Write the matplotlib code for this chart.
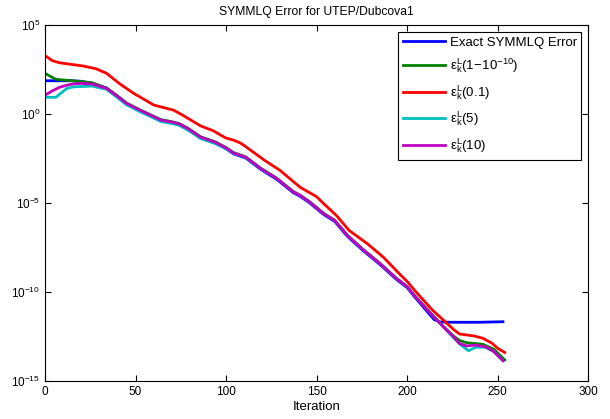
import numpy as np
import matplotlib
matplotlib.use('Agg')
import matplotlib.pyplot as plt

plt.rcParams['font.family'] = ['Liberation Sans', 'DejaVu Sans']
plt.rcParams['mathtext.fontset'] = 'custom'
plt.rcParams['mathtext.rm'] = 'Liberation Sans'
plt.rcParams['mathtext.it'] = 'Liberation Sans'

# log10 of the error
it_exact = [1, 8, 15, 20, 26, 34, 40, 45, 52, 58, 64, 70, 74, 79, 86, 94, 100, 104, 111, 119,
            128, 137, 141, 146, 154, 160, 167, 176, 185, 194, 200, 204, 212, 215, 218, 224, 240, 253]
lg_exact = [1.87, 1.87, 1.87, 1.84, 1.72, 1.46, 1.0, 0.58, 0.2, -0.08, -0.38, -0.5, -0.6, -0.87,
            -1.35, -1.63, -1.95, -2.23, -2.48, -3.1, -3.67, -4.41, -4.63, -4.98, -5.65, -6.03,
            -6.87, -7.7, -8.45, -9.28, -9.75, -10.25, -11.2, -11.55, -11.68, -11.7, -11.7, -11.67]

it_green = [1, 6, 15, 26, 34, 40, 45, 52, 58, 64, 70, 74, 79, 86, 94, 100, 104, 111, 119,
            128, 137, 141, 146, 154, 160, 167, 176, 185, 194, 200, 204, 213, 220, 226, 229,
            233, 242, 248, 254]
lg_green = [2.23, 1.95, 1.87, 1.76, 1.46, 1.02, 0.62, 0.26, -0.03, -0.31, -0.43, -0.53, -0.8,
            -1.28, -1.56, -1.88, -2.16, -2.41, -3.03, -3.6, -4.34, -4.56, -4.91, -5.58, -5.96,
            -6.8, -7.63, -8.38, -9.21, -9.68, -10.18, -11.18, -11.93, -12.5, -12.72, -12.85,
            -12.94, -13.22, -13.82]

it_red = [1, 4, 8, 21, 28, 34, 41, 49, 56, 60, 66, 71, 76, 86, 93, 97, 100, 104, 108, 111,
          121, 130, 141, 150, 154, 161, 168, 178, 187, 196, 200, 205, 214, 220, 226, 229, 237,
          242, 247, 250, 254]
lg_red = [3.22, 3.0, 2.88, 2.7, 2.55, 2.29, 1.72, 1.16, 0.75, 0.51, 0.35, 0.22, -0.06, -0.67,
          -0.94, -1.18, -1.35, -1.46, -1.63, -1.84, -2.58, -3.18, -4.12, -4.64, -5.04, -5.7,
          -6.54, -7.28, -8.05, -9.0, -9.4, -10.0, -11.01, -11.57, -12.13, -12.36, -12.47,
          -12.6, -12.88, -13.16, -13.4]

it_cyan = [1, 6, 12, 16, 26, 34, 40, 45, 52, 58, 64, 70, 74, 79, 86, 94, 100, 104, 111, 119,
           128, 137, 141, 146, 154, 160, 167, 176, 185, 194, 200, 204, 213, 220, 226, 230, 234,
           238, 243, 248, 253]
lg_cyan = [0.94, 0.94, 1.44, 1.53, 1.57, 1.39, 0.92, 0.52, 0.16, -0.13, -0.42, -0.53, -0.63,
           -0.9, -1.38, -1.66, -1.95, -2.2, -2.45, -3.07, -3.62, -4.36, -4.58, -4.93, -5.6,
           -5.98, -6.82, -7.65, -8.4, -9.23, -9.7, -10.2, -11.2, -11.95, -12.6, -13.0, -13.3,
           -13.1, -13.1, -13.35, -13.86]

it_mag = [1, 4, 8, 12, 16, 20, 26, 34, 40, 45, 52, 58, 64, 70, 74, 79, 86, 94, 100, 104, 111,
          119, 128, 137, 141, 146, 154, 160, 167, 176, 185, 194, 200, 204, 213, 220, 226, 229,
          233, 238, 244, 248, 253]
lg_mag = [1.12, 1.3, 1.5, 1.62, 1.7, 1.72, 1.69, 1.44, 1.0, 0.6, 0.24, -0.05, -0.34, -0.45,
          -0.55, -0.82, -1.3, -1.58, -1.9, -2.18, -2.43, -3.05, -3.62, -4.36, -4.58, -4.93,
          -5.6, -5.98, -6.82, -7.65, -8.4, -9.23, -9.7, -10.2, -11.2, -11.95, -12.55, -12.9,
          -13.03, -12.98, -13.1, -13.35, -13.86]

labels = ['Exact SYMMLQ Error',
          r'$\mathregular{\varepsilon_k^L(1\!-\!10^{-10})}$',
          r'$\mathregular{\varepsilon_k^L(0.1)}$',
          r'$\mathregular{\varepsilon_k^L(5)}$',
          r'$\mathregular{\varepsilon_k^L(10)}$']

fig = plt.figure(figsize=(6.10, 4.19), dpi=100)
ax = fig.add_axes([0.0738, 0.0907, 0.8902, 0.8495])

series = [(it_exact, lg_exact, '#0000ff'),
          (it_green, lg_green, '#008000'),
          (it_red, lg_red, '#ff0000'),
          (it_cyan, lg_cyan, '#00bfbf'),
          (it_mag, lg_mag, '#bf00bf')]
for (xs, ls, c), lab in zip(series, labels):
    ax.semilogy(xs, 10.0 ** np.array(ls), color=c, lw=2, label=lab)

ax.set_xlim(0, 300)
ax.set_ylim(1e-15, 1e5)
ax.set_xticks([0, 50, 100, 150, 200, 250, 300])
ax.set_yticks([1e-15, 1e-10, 1e-5, 1e0, 1e5])
ax.yaxis.set_minor_locator(matplotlib.ticker.NullLocator())
ax.tick_params(direction='in', top=True, right=True, labelsize=8.5, length=4, width=0.8)
for s in ax.spines.values():
    s.set_linewidth(0.8)

ax.set_xlabel('Iteration', fontsize=9.5, labelpad=2)
ax.set_title('SYMMLQ Error for UTEP/Dubcova1', fontsize=8.7, pad=7)

leg = ax.legend(loc='upper right', fontsize=9.5, fancybox=False, edgecolor='black',
                framealpha=1, handlelength=3.2, handletextpad=0.35, labelspacing=0.6,
                borderaxespad=0.5, borderpad=0.35)
leg.get_frame().set_linewidth(0.8)

fig.savefig('out.png', dpi=100)
